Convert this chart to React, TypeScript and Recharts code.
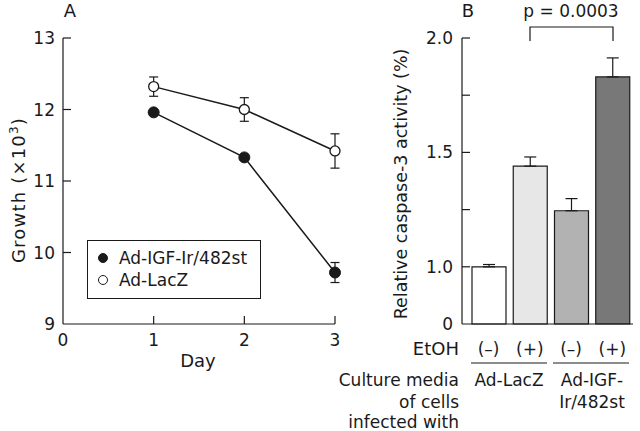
import {
  LineChart,
  Line,
  XAxis,
  YAxis,
  ErrorBar,
  BarChart,
  Bar,
  Cell,
} from 'recharts';

// Panel A: growth by day
const DAYS = [1, 2, 3];
const IGF_MEAN = [11.96, 11.33, 9.72];
const IGF_SD = [0.03, 0.03, 0.14];
const LACZ_MEAN = [12.32, 12.0, 11.42];
const LACZ_SD = [0.135, 0.165, 0.24];
const DAY_TICKS = [0, 1, 2, 3];
const GROWTH_TICKS = [9, 10, 11, 12, 13];
const SERIES_NAMES = ['Ad-IGF-Ir/482st', 'Ad-LacZ'];

// Panel B: caspase-3 activity
const ETOH = ['(–)', '(+)', '(–)', '(+)'];
const CASPASE = [1.0, 1.44, 1.245, 1.83];
const CASPASE_SD = [0.01, 0.04, 0.053, 0.083];
const BAR_COLORS = ['#ffffff', '#e6e7e6', '#b1b2b1', '#787878'];
const CASPASE_TICKS = [0.75, 1.0, 1.25, 1.5, 1.75, 2.0];
const CASPASE_TICK_LABELS = ['0', '1.0', '', '1.5', '', '2.0'];

const FONT = '"DejaVu Sans", sans-serif';
const INK = '#1a1a1a';

const growthData = DAYS.map((day, i) => ({
  day,
  igf: IGF_MEAN[i],
  igfSd: IGF_SD[i],
  lacz: LACZ_MEAN[i],
  laczSd: LACZ_SD[i],
}));

const caspaseData = ETOH.map((etoh, i) => ({
  etoh,
  value: CASPASE[i],
  sd: [0, CASPASE_SD[i]],
}));

function DayTick({ x, y, payload }: any) {
  return (
    <g>
      {payload.value > 0 && (
        <line x1={x} x2={x} y1={y} y2={y - 8} stroke={INK} strokeWidth={1.2} />
      )}
      <text x={x} y={y + 22} textAnchor="middle" fontSize={17} fontFamily={FONT} fill={INK}>
        {payload.value}
      </text>
    </g>
  );
}

function GrowthTick({ x, y, payload }: any) {
  return (
    <g>
      {payload.value > 9 && (
        <line x1={x} x2={x + 8} y1={y} y2={y} stroke={INK} strokeWidth={1.2} />
      )}
      <text x={x - 8} y={y + 6} textAnchor="end" fontSize={17} fontFamily={FONT} fill={INK}>
        {payload.value}
      </text>
    </g>
  );
}

function CaspaseTick({ x, y, payload, index }: any) {
  return (
    <g>
      {payload.value > 0.75 && (
        <line x1={x} x2={x + 8} y1={y} y2={y} stroke={INK} strokeWidth={1.2} />
      )}
      <text x={x - 9} y={y + 6} textAnchor="end" fontSize={17} fontFamily={FONT} fill={INK}>
        {CASPASE_TICK_LABELS[index]}
      </text>
    </g>
  );
}

function EtohTick({ x, y, payload }: any) {
  return (
    <text x={x} y={y + 31} textAnchor="middle" fontSize={17} fontFamily={FONT} fill={INK}>
      {payload.value}
    </text>
  );
}

function GrowthChart() {
  return (
    <LineChart
      width={350}
      height={431}
      data={growthData}
      margin={{ top: 38, right: 15, bottom: 0, left: 0 }}
    >
      <XAxis
        dataKey="day"
        type="number"
        domain={[0, 3]}
        ticks={DAY_TICKS}
        height={107}
        tickSize={0}
        tickMargin={0}
        tickLine={false}
        axisLine={{ stroke: INK, strokeWidth: 1.2 }}
        tick={<DayTick />}
      />
      <YAxis
        type="number"
        domain={[9, 13]}
        ticks={GROWTH_TICKS}
        width={63}
        tickSize={0}
        tickMargin={0}
        tickLine={false}
        axisLine={{ stroke: INK, strokeWidth: 1.2 }}
        tick={<GrowthTick />}
      />
      {/* lines with error bars, then the markers again on top */}
      <Line dataKey="lacz" stroke={INK} strokeWidth={1.5} isAnimationActive={false} dot={false}>
        <ErrorBar dataKey="laczSd" width={4.5} stroke={INK} strokeWidth={1.2} />
      </Line>
      <Line dataKey="igf" stroke={INK} strokeWidth={1.5} isAnimationActive={false} dot={false}>
        <ErrorBar dataKey="igfSd" width={4.5} stroke={INK} strokeWidth={1.2} />
      </Line>
      <Line
        dataKey="lacz"
        stroke="none"
        isAnimationActive={false}
        dot={{ r: 5, fill: '#fff', stroke: INK, strokeWidth: 1.3 }}
      />
      <Line
        dataKey="igf"
        stroke="none"
        isAnimationActive={false}
        dot={{ r: 5.5, fill: INK, stroke: INK, strokeWidth: 1 }}
      />
    </LineChart>
  );
}

function CaspaseChart() {
  return (
    <BarChart
      width={290}
      height={431}
      data={caspaseData}
      margin={{ top: 38, right: 7, bottom: 0, left: 0 }}
      barSize={34}
    >
      <XAxis
        dataKey="etoh"
        height={107}
        padding={{ left: 6, right: 0 }}
        tickSize={0}
        tickMargin={0}
        tickLine={false}
        interval={0}
        axisLine={{ stroke: INK, strokeWidth: 1.2 }}
        tick={<EtohTick />}
      />
      <YAxis
        type="number"
        domain={[0.75, 2.0]}
        ticks={CASPASE_TICKS}
        width={112}
        tickSize={0}
        tickMargin={0}
        tickLine={false}
        axisLine={{ stroke: INK, strokeWidth: 1.2 }}
        tick={<CaspaseTick />}
      />
      <Bar dataKey="value" stroke={INK} strokeWidth={1.2} isAnimationActive={false}>
        {caspaseData.map((_, i) => (
          <Cell key={i} fill={BAR_COLORS[i]} />
        ))}
        <ErrorBar dataKey="sd" width={6} stroke={INK} strokeWidth={1.2} />
      </Bar>
    </BarChart>
  );
}

function Annotations() {
  const t = { fontFamily: FONT, fontSize: 17, fill: INK };
  return (
    <svg
      width={640}
      height={431}
      style={{ position: 'absolute', left: 0, top: 0, pointerEvents: 'none' }}
    >
      <text x={70} y={17} textAnchor="middle" {...t} fontSize={18}>A</text>
      <text x={468} y={17} textAnchor="middle" {...t} fontSize={18}>B</text>

      <text
        transform="translate(25,190) rotate(-90)"
        textAnchor="middle"
        {...t}
        fontSize={18}
        letterSpacing={1.2}
      >
        Growth (×10<tspan dy={-7} fontSize={12}>3</tspan>
        <tspan dy={7}>)</tspan>
      </text>
      <text x={198} y={367} textAnchor="middle" {...t} fontSize={18}>Day</text>

      <text
        transform="translate(407,184) rotate(-90)"
        textAnchor="middle"
        {...t}
        fontSize={17.5}
      >
        Relative caspase-3 activity (%)
      </text>

      <text x={571} y={17} textAnchor="middle" {...t}>p = 0.0003</text>
      <polyline
        points="530,41 530,27 613,27 613,41"
        fill="none"
        stroke={INK}
        strokeWidth={1.2}
      />

      <text x={459} y={355} textAnchor="end" {...t} fontSize={18}>EtOH</text>
      <line x1={471} x2={547} y1={363} y2={363} stroke={INK} strokeWidth={1} />
      <line x1={553} x2={629} y1={363} y2={363} stroke={INK} strokeWidth={1} />
      <text x={509} y={386} textAnchor="middle" {...t}>Ad-LacZ</text>
      <text x={592} y={386} textAnchor="middle" {...t}>Ad-IGF-</text>
      <text x={592} y={408} textAnchor="middle" {...t}>Ir/482st</text>
      <text x={459} y={386} textAnchor="end" {...t}>Culture media</text>
      <text x={459} y={408} textAnchor="end" {...t}>of cells</text>
      <text x={459} y={428} textAnchor="end" {...t}>infected with</text>
    </svg>
  );
}

function GrowthLegend() {
  return (
    <div
      style={{
        position: 'absolute',
        left: 87,
        top: 240,
        width: 172,
        height: 57,
        border: `1px solid ${INK}`,
        background: '#fff',
        fontFamily: FONT,
        fontSize: 17,
        color: INK,
      }}
    >
      {SERIES_NAMES.map((name, i) => (
        <div
          key={name}
          style={{ position: 'absolute', left: 10, top: 7 + i * 22, display: 'flex', alignItems: 'center' }}
        >
          <span
            style={{
              display: 'inline-block',
              width: 8,
              height: 8,
              borderRadius: '50%',
              border: `1px solid ${INK}`,
              background: i === 0 ? INK : '#fff',
              marginRight: 11,
            }}
          />
          <span>{name}</span>
        </div>
      ))}
    </div>
  );
}

export default function App() {
  return (
    <div
      style={{
        position: 'absolute',
        left: 0,
        top: 0,
        width: 640,
        height: 431,
        background: '#fff',
        overflow: 'hidden',
      }}
    >
      <div style={{ position: 'absolute', left: 0, top: 0 }}>
        <GrowthChart />
      </div>
      <div style={{ position: 'absolute', left: 350, top: 0 }}>
        <CaspaseChart />
      </div>
      <GrowthLegend />
      <Annotations />
    </div>
  );
}
